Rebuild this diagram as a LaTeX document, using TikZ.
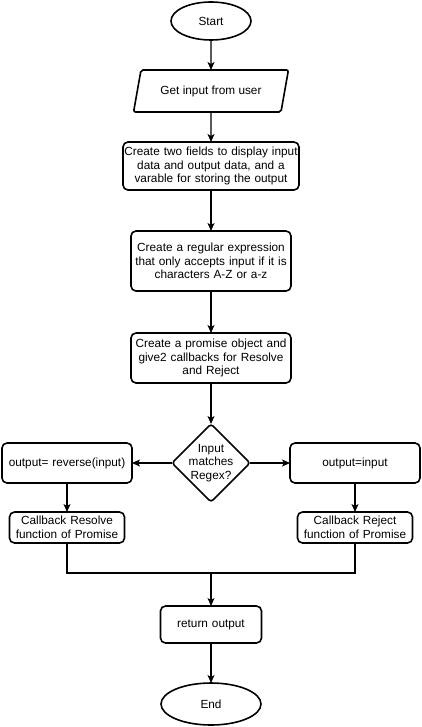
\documentclass[tikz,border=0pt]{standalone}
\usepackage{fontspec}
\setmainfont{Liberation Sans}
\usepackage{tikz}
\usetikzlibrary{shapes.geometric,arrows.meta,positioning}

\begin{document}
\begin{tikzpicture}[
	x=1pt, y=1pt,
	font=\fontsize{11.8}{13.5}\selectfont,
	>={Stealth[length=8pt, width=7pt, inset=2pt]},
	no/.style={rectangle, rounded corners=5pt, draw=black, line width=1.6pt, inner sep=0pt, outer sep=0pt, align=center},
	term/.style={ellipse, draw=black, line width=1.6pt, inner sep=0pt, outer sep=0pt},
	entrada/.style={trapezium, trapezium left angle=64, trapezium right angle=116, trapezium stretches=true, draw=black, line width=1.6pt, rounded corners=2pt, inner sep=0pt, outer sep=0pt, align=center},
	decisao/.style={diamond, aspect=1, draw=black, line width=1.6pt, rounded corners=3pt, inner sep=-2pt, outer sep=0pt, align=center},
	seta/.style={->, line width=1.1pt, black},
	linha/.style={line width=1.1pt, black},
]
\useasboundingbox (0,0) rectangle (422,-727);
\node[term, minimum width=80pt, minimum height=38pt] (ini) at (211,-21) {Start};
\node[entrada, minimum width=155pt, minimum height=42pt] (ent) [below=30pt of ini] {Get input from user};
\node[no, text width=176pt, minimum height=48pt] (cam) [below=30pt of ent] {Create two fields to display input\\ data and output data, and a\\ varable for storing the output};
\node[no, text width=160pt, minimum height=60pt] (reg) [below=41pt of cam] {Create a regular expression\\ that only accepts input if it is\\ characters A-Z or a-z};
\node[no, text width=160pt, minimum height=50pt] (pro) [below=42pt of reg] {Create a promise object and\\ give2 callbacks for Resolve\\ and Reject};
\node[decisao, minimum size=78pt] (dec) [below=41pt of pro] {Input\\ matches\\ Regex?};
\node[no, text width=130pt, minimum height=40pt] (rev) [left=40pt of dec] {output= reverse(input)};
\node[no, text width=130pt, minimum height=40pt] (igu) [right=40pt of dec] {output=input};
\node[no, text width=115pt, minimum height=31pt] (res) [below=29pt of rev] {Callback Resolve\\ function of Promise};
\node[no, text width=115pt, minimum height=31pt] (rej) [below=29pt of igu] {Callback Reject\\ function of Promise};
\coordinate[below=30pt of res] (jr);
\coordinate (jm) at (jr -| dec);
\node[no, text width=101pt, minimum height=37pt] (ret) [below=33pt of jm] {return output};
\node[term, minimum width=100pt, minimum height=42pt] (fim) [below=40pt of ret] {End};
\draw[seta] (ini)--(ent); \draw[seta] (ent)--(cam); \draw[seta] (cam)--(reg); \draw[seta] (reg)--(pro); \draw[seta] (pro)--(dec);
\draw[seta] (dec)--(rev); \draw[seta] (dec)--(igu);
\draw[seta] (rev)--(res); \draw[seta] (igu)--(rej);
\draw[linha] (res)--(jr)-|(rej);
\draw[seta] (jm)--(ret); \draw[seta] (ret)--(fim);
\end{tikzpicture}
\end{document}
